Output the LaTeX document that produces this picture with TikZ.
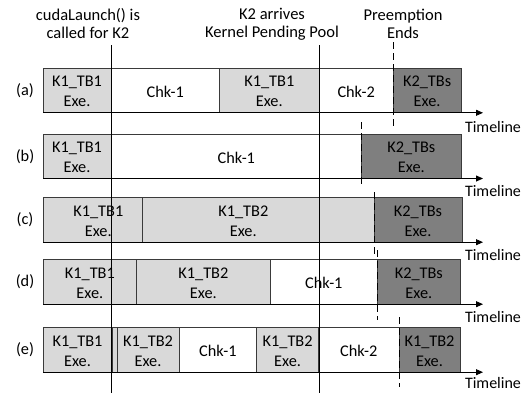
\documentclass[tikz,border=0pt]{standalone}
\usepackage{fontspec}
\setmainfont{Carlito}
\usetikzlibrary{arrows.meta,calc}
\definecolor{lightfill}{HTML}{D9D9D9}
\definecolor{darkfill}{HTML}{7F7F7F}
\definecolor{boxline}{HTML}{3A3A3A}
\newcommand{\mkseg}[7]{%
  \node[#2, minimum width={#4-#3}] (#1) at (#3,#5) {};
  \node[txt, xshift=#7] (#1t) at ($(#1.center)+(0,1.2)$) {#6};}
\begin{document}
\begin{tikzpicture}[x=1pt,y=-1pt,
  segbox/.style={draw=boxline, line width=0.9pt, anchor=north west, inner sep=0pt, outer sep=0pt, minimum height=44.5pt},
  lightseg/.style={segbox, fill=lightfill},
  plainseg/.style={segbox, fill=white},
  darkseg/.style={segbox, fill=darkfill},
  txt/.style={font=\fontsize{16.3}{20}\selectfont, align=center, inner sep=0pt},
  rowlabel/.style={font=\fontsize{16.3}{20}\selectfont, inner sep=0pt},
  toplabel/.style={font=\fontsize{16.5}{18}\selectfont, align=center, inner sep=0pt},
  solidmark/.style={black, line width=0.8pt},
  dashmark/.style={black, line width=0.8pt, dash pattern=on 7pt off 4pt},
  timeline/.style={black, line width=0.8pt, -{Triangle[length=7pt,width=6pt]}},
  tltext/.style={font=\fontsize{16}{19}\selectfont, inner sep=0pt},
]
\useasboundingbox (0,0) rectangle (531,394);

% top labels
\node[toplabel] (lbl1) at (88,24) {cudaLaunch() is\\called for K2};
\node[toplabel] (lbl2) at (272,24) {K2 arrives\\Kernel Pending Pool};
\node[toplabel] (lbl3) at (403,24) {Preemption\\Ends};

% row (a)
\mkseg{a1}{lightseg}{43}{111}{68.3}{K1\_TB1\\Exe.}{0pt}
\mkseg{a2}{plainseg}{111}{219.6}{68.3}{Chk-1}{0pt}
\mkseg{a3}{lightseg}{219.6}{319}{68.3}{K1\_TB1\\Exe.}{0pt}
\mkseg{a4}{plainseg}{319}{393.3}{68.3}{Chk-2}{0pt}
\mkseg{a5}{darkseg}{393.3}{461}{68.3}{K2\_TBs\\Exe.}{0pt}
% row (b)
\mkseg{b1}{lightseg}{43}{111}{134}{K1\_TB1\\Exe.}{0pt}
\mkseg{b2}{plainseg}{111}{361.7}{134}{Chk-1}{0pt}
\mkseg{b3}{darkseg}{361.7}{461}{134}{K2\_TBs\\Exe.}{0pt}
% row (c)
\mkseg{c1}{lightseg}{43}{142.6}{197.7}{K1\_TB1\\Exe.}{5.5pt}
\mkseg{c2}{lightseg}{142.6}{374}{197.7}{K1\_TB2\\Exe.}{-15pt}
\mkseg{c3}{darkseg}{374}{462}{197.7}{K2\_TBs\\Exe.}{0pt}
% row (d)
\mkseg{d1}{lightseg}{43}{136.8}{259.7}{K1\_TB1\\Exe.}{0pt}
\mkseg{d2}{lightseg}{136.8}{270}{259.7}{K1\_TB2\\Exe.}{0pt}
\mkseg{d3}{plainseg}{270}{377.7}{259.7}{Chk-1}{0pt}
\mkseg{d4}{darkseg}{377.7}{460}{259.7}{K2\_TBs\\Exe.}{0pt}
% row (e)
\mkseg{e1}{lightseg}{43}{112}{327.7}{K1\_TB1\\Exe.}{0pt}
\node[lightseg, minimum width=5pt] (egap) at (112,327.7) {};
\mkseg{e2}{lightseg}{117}{179}{327.7}{K1\_TB2\\Exe.}{0pt}
\mkseg{e3}{plainseg}{179}{256.8}{327.7}{Chk-1}{0pt}
\mkseg{e4}{lightseg}{256.8}{318.5}{327.7}{K1\_TB2\\Exe.}{0pt}
\mkseg{e5}{plainseg}{318.5}{399}{327.7}{Chk-2}{0pt}
\mkseg{e6}{darkseg}{399}{460}{327.7}{K1\_TB2\\Exe.}{0pt}

% row labels
\node[rowlabel] (la) at (25,91) {(a)};
\node[rowlabel] (lb) at (25,156.5) {(b)};
\node[rowlabel] (lc) at (25,220) {(c)};
\node[rowlabel] (ld) at (25,282) {(d)};
\node[rowlabel] (le) at (25,350) {(e)};

% timelines
\foreach \r/\y/\o in {a/112.8/14, b/178.5/12, c/242.2/13, d/304.2/12.5, e/372.2/11}{
  \coordinate (\r end) at (483,\y);
  \draw[timeline] (\r1.south west) -- (\r end);
  \node[tltext] (\r tl) at (493,\y+\o) {Timeline};
}

% solid markers
\coordinate (s1top) at (111,45);
\coordinate (s1bot) at (111,393);
\coordinate (s2top) at (319,45);
\coordinate (s2bot) at (319,393);
\draw[solidmark] (s1top) -- (s1bot);
\draw[solidmark] (s2top) -- (s2bot);

% dashed preemption markers
\coordinate (pa1) at (393.3,42);  \coordinate (pa2) at (393.3,127);
\coordinate (pb1) at (361.7,122); \coordinate (pb2) at (361.7,187);
\coordinate (pc1) at (374,192);   \coordinate (pc2) at (374,255);
\coordinate (pd1) at (377.7,250); \coordinate (pd2) at (377.7,320);
\coordinate (pe1) at (399,317);   \coordinate (pe2) at (399,387);
\foreach \r in {a,b,c,d,e}{
  \draw[dashmark] (p\r1) -- (p\r2);
}
\end{tikzpicture}
\end{document}
